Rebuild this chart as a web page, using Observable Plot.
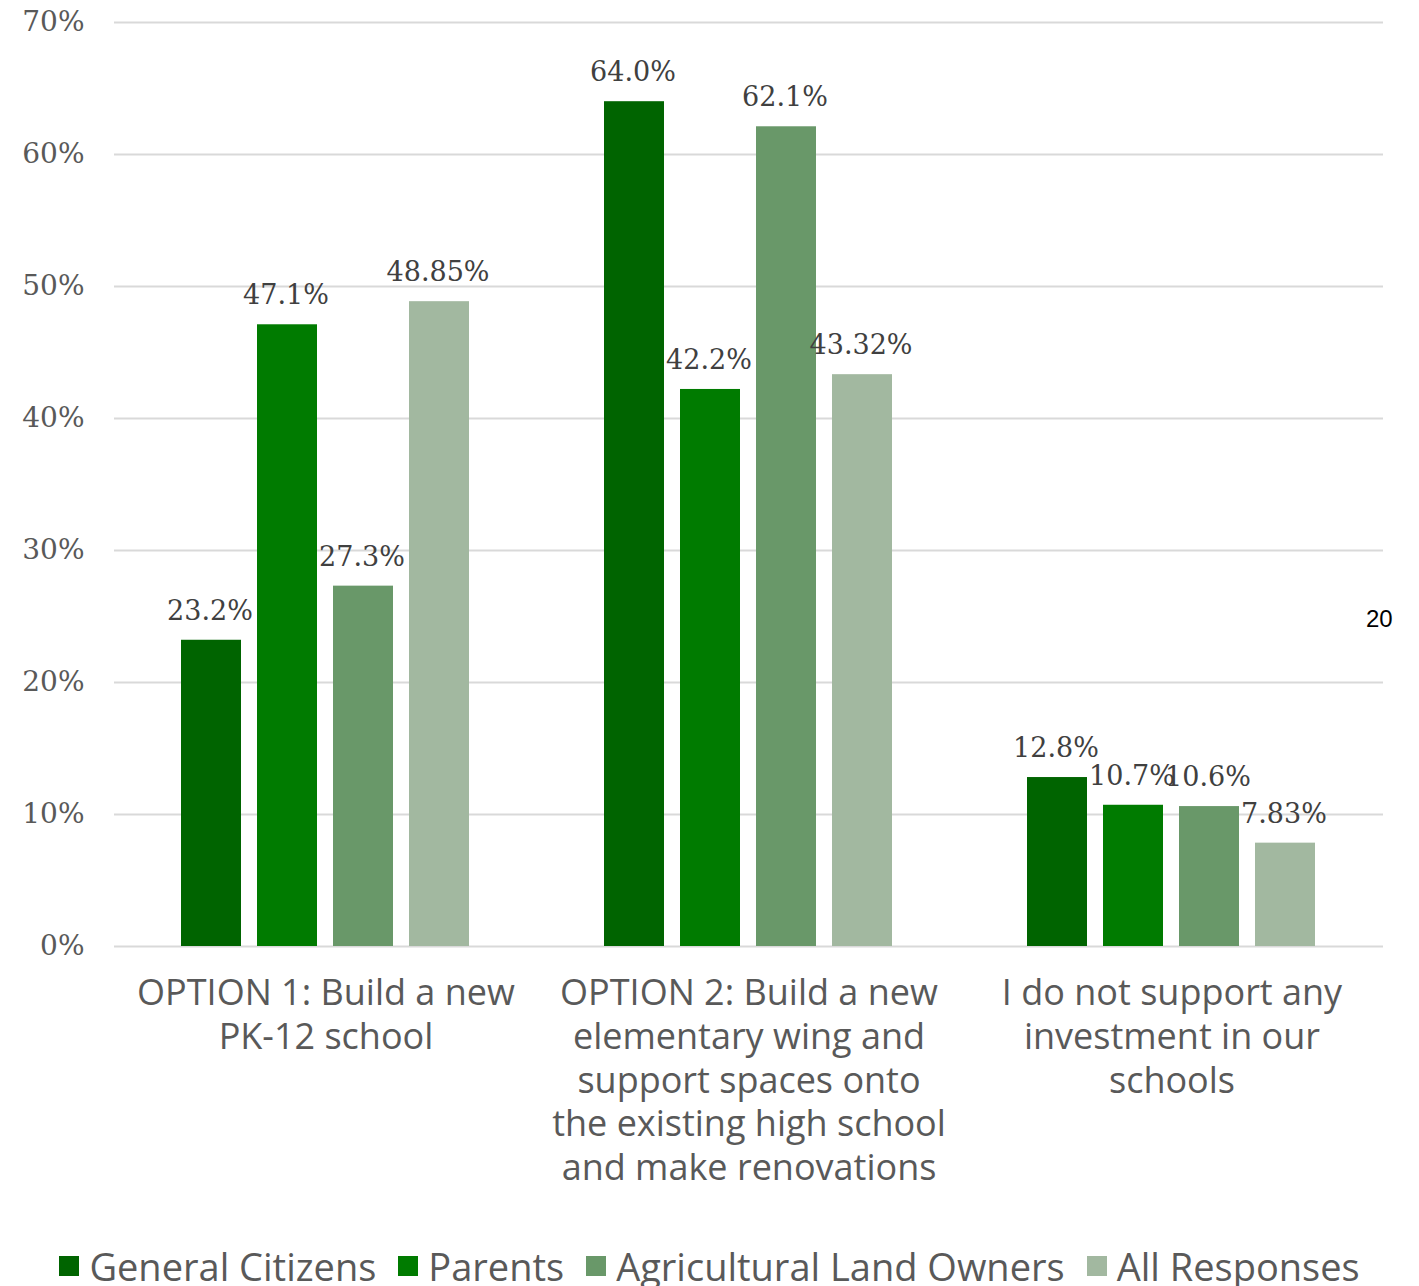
<!DOCTYPE html>
<html><head><meta charset="utf-8">
<script src="https://cdn.jsdelivr.net/npm/d3@7"></script>
<script src="https://cdn.jsdelivr.net/npm/@observablehq/plot@0.6"></script>
<style>
body{margin:0;background:#fff;}
#wrap{position:relative;width:1419px;height:1286px;overflow:hidden;background:#fff;}
#legend{position:absolute;left:0;top:1240px;width:1419px;display:flex;justify-content:center;align-items:center;font-family:"Open Sans",Lato,sans-serif;font-size:38px;font-weight:500;color:#595959;white-space:nowrap;}
#legend .item{display:flex;align-items:center;margin:0 11px;}
#legend .sw{width:20px;height:20px;margin-right:10px;}
#page{position:absolute;left:1366px;top:605px;font-family:"Liberation Sans",Arial,sans-serif;font-size:24px;color:#000;}
</style>
</head><body>
<div id="wrap"><div id="chart"></div><div id="legend"></div><div id="page">20</div></div>
<script>
const categories = [
  "OPTION 1: Build a new PK-12 school",
  "OPTION 2: Build a new elementary wing and support spaces onto the existing high school and make renovations",
  "I do not support any investment in our schools"
];
const categoryLabels = [
  "OPTION 1: Build a new\nPK-12 school",
  "OPTION 2: Build a new\nelementary wing and\nsupport spaces onto\nthe existing high school\nand make renovations",
  "I do not support any\ninvestment in our\nschools"
];
const series = ["General Citizens", "Parents", "Agricultural Land Owners", "All Responses"];
const colors = ["#006400", "#007b00", "#699869", "#a2b8a0"];
const generalCitizens = [23.2, 64.0, 12.8];
const parents = [47.1, 42.2, 10.7];
const agriculturalLandOwners = [27.3, 62.1, 10.6];
const allResponses = [48.85, 43.32, 7.83];
const valueLabels = [
  ["23.2%", "64.0%", "12.8%"],
  ["47.1%", "42.2%", "10.7%"],
  ["27.3%", "62.1%", "10.6%"],
  ["48.85%", "43.32%", "7.83%"]
];
const yTicks = [0, 10, 20, 30, 40, 50, 60, 70];

const seriesValues = [generalCitizens, parents, agriculturalLandOwners, allResponses];
const data = [];
categories.forEach((c, ci) => {
  series.forEach((s, si) => {
    data.push({category: c, series: s, value: seriesValues[si][ci], label: valueLabels[si][ci]});
  });
});

const chart = Plot.plot({
  width: 1419,
  height: 1222,
  marginTop: 22,
  marginBottom: 276,
  marginLeft: 113,
  marginRight: 36,
  style: {background: "#fff"},
  fx: {domain: categories, padding: 0, label: null, axis: null},
  x: {domain: series, paddingInner: 0.22, paddingOuter: 0.86, axis: null},
  y: {domain: [0, 70], label: null},
  color: {domain: series, range: colors},
  marks: [
    Plot.ruleY(yTicks, {stroke: "#d9d9d9", strokeWidth: 2}),
    Plot.barY(data, {fx: "category", x: "series", y: "value", fill: "series", insetLeft: -1, insetRight: 0}),
    Plot.text(data, {fx: "category", x: "series", y: "value", text: "label", dx: -2, dy: -29,
      fontSize: 27, fontFamily: "DejaVu Serif", fill: "#404040"}),
    Plot.axisY({ticks: yTicks, tickFormat: d => d + "%", tickSize: 0, tickPadding: 30,
      fontSize: 28, fontFamily: "DejaVu Serif", color: "#595959", label: null}),
    Plot.axisFx({anchor: "bottom", tickFormat: d => categoryLabels[categories.indexOf(d)], tickSize: 0, tickPadding: 28,
      fontSize: 36, fontWeight: 500, lineHeight: 1.21, fontFamily: "Open Sans", color: "#595959", label: null})
  ]
});
document.getElementById("chart").appendChild(chart);

const legend = document.getElementById("legend");
series.forEach((s, i) => {
  const it = document.createElement("div");
  it.className = "item";
  it.innerHTML = `<span class="sw" style="background:${colors[i]}"></span><span>${s}</span>`;
  legend.appendChild(it);
});
</script>
</body></html>
